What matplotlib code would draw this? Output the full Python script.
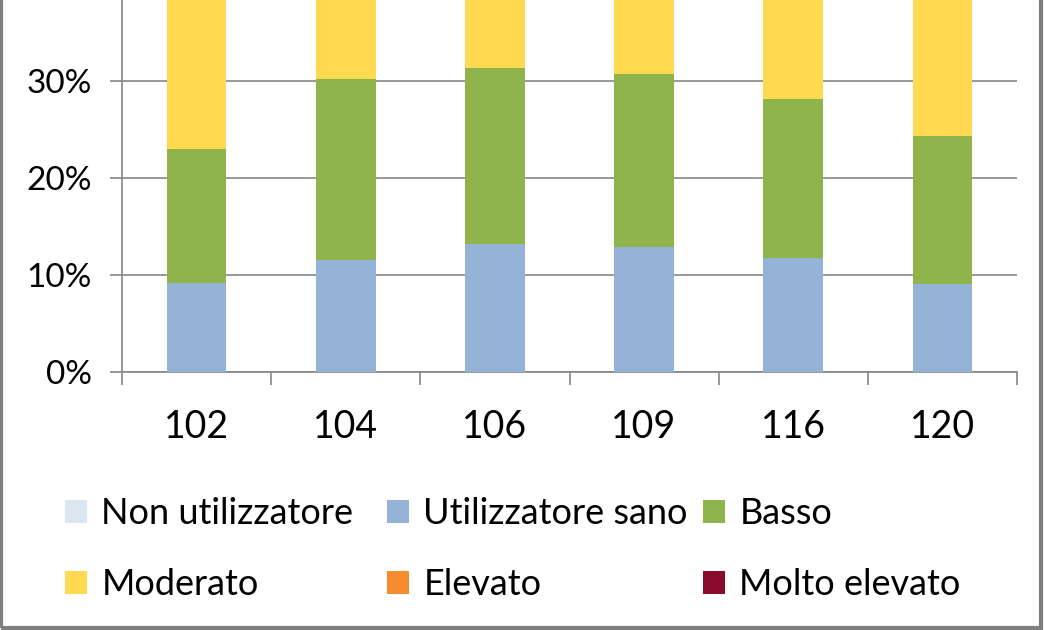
import numpy as np
import matplotlib
matplotlib.use("Agg")
import matplotlib.pyplot as plt
from matplotlib.patches import Rectangle

plt.rcParams['font.family'] = ['Lato', 'DejaVu Sans']

# dati (quote per categoria, stacked)
categories = ["102", "104", "106", "109", "116", "120"]
non_utilizzatore = [0.0, 0.0, 0.0, 0.0, 0.0, 0.0]
utilizzatore_sano = [9.2, 11.5, 13.2, 12.9, 11.8, 9.1]
basso = [13.8, 18.7, 18.1, 17.8, 16.3, 15.2]
moderato = [30.0, 28.0, 27.0, 28.0, 29.0, 31.0]
elevato = [25.0, 22.0, 21.0, 22.0, 23.0, 24.0]
molto_elevato = [22.0, 19.8, 20.7, 19.3, 19.9, 20.7]

series = [
    ("Non utilizzatore", non_utilizzatore, "#DCE6F2"),
    ("Utilizzatore sano", utilizzatore_sano, "#95B3D7"),
    ("Basso", basso, "#8EB44B"),
    ("Moderato", moderato, "#FFD950"),
    ("Elevato", elevato, "#F58A2E"),
    ("Molto elevato", molto_elevato, "#8B0B2C"),
]

fig = plt.figure(figsize=(10.44, 6.30), dpi=100)
ax = fig.add_axes([122 / 1044, (630 - 372) / 630, (1017 - 122) / 1044, 372 / 630])

x = np.arange(len(categories))
bottom = np.zeros(len(categories))
handles = []
for name, vals, col in series:
    v = np.array(vals) / 100
    b = ax.bar(x, v, 0.4, bottom=bottom, color=col, label=name, zorder=3)
    handles.append(b)
    bottom += v

ax.set_xlim(-0.5, len(categories) - 0.5)
ax.set_ylim(0, 0.3835)
ax.set_yticks([0, 0.1, 0.2, 0.3])
ax.set_yticklabels(["0%", "10%", "20%", "30%"], fontsize=24)
ax.set_xticks(x)
ax.set_xticklabels(categories, fontsize=27)
ax.set_xticks(np.arange(-0.5, len(categories)), minor=True)
ax.tick_params(axis='x', which='major', length=0, pad=27)
ax.tick_params(axis='x', which='minor', length=9, width=1.2, color="#868686")
ax.tick_params(axis='y', length=8.6, width=1.2, color="#868686", pad=13)
ax.yaxis.grid(True, color="#868686", linewidth=1.2, zorder=0)
for s in ["top", "right"]:
    ax.spines[s].set_visible(False)
for s in ["left", "bottom"]:
    ax.spines[s].set_color("#868686")
    ax.spines[s].set_linewidth(1.2)

# legenda: 3 colonne a larghezza fissa, riempite per righe
col_x = [58, 380, 696]
for i, cx in enumerate(col_x):
    fig.legend(handles=[handles[i], handles[i + 3]], loc="upper left",
               bbox_to_anchor=(cx / 1044, 1 - 490 / 630), ncol=1, frameon=False,
               fontsize=26, handlelength=0.6, handleheight=0.6, handletextpad=0.4,
               labelspacing=1.05, borderaxespad=0, borderpad=0.2)

fig.add_artist(Rectangle((0.001, 0.003), 0.996, 1.2, transform=fig.transFigure,
                         fill=False, edgecolor="#7F7F7F", linewidth=3))

fig.savefig("out.png", dpi=100)
